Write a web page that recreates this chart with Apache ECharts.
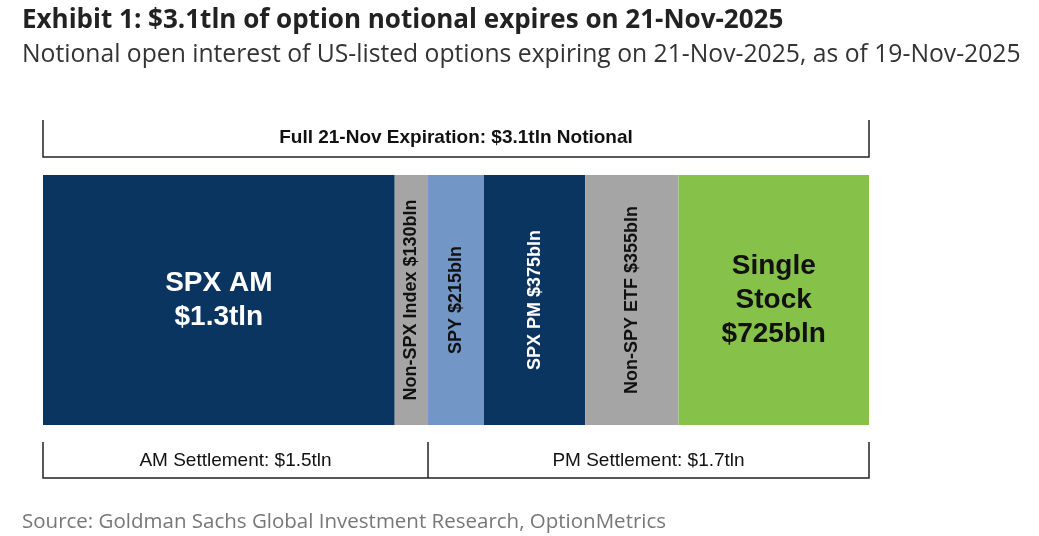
<!DOCTYPE html>
<html>
<head>
<meta charset="utf-8">
<script src="https://cdn.jsdelivr.net/npm/echarts@6/dist/echarts.min.js"></script>
<style>html,body{margin:0;padding:0;background:#fff}#chart{width:1039px;height:536px}</style>
</head>
<body>
<div id="chart"></div>
<script>
'use strict';
const segments = ['SPX AM', 'Non-SPX Index', 'SPY', 'SPX PM', 'Non-SPY ETF', 'Single Stock'];
// widths as drawn in the picture ($bln)
const values = [1320, 125, 210, 380, 350, 715];
const labels = ['SPX AM\n$1.3tln', 'Non-SPX Index $130bln', 'SPY $215bln', 'SPX PM $375bln', 'Non-SPY ETF $355bln', 'Single\nStock\n$725bln'];
const colors = ['#0a3560', '#a5a5a5', '#7297c6', '#0a3560', '#a5a5a5', '#86c24a'];
const textColors = ['#fff', '#111', '#111', '#fff', '#111', '#111'];
const rotated = [false, true, true, true, true, false];
const total = values.reduce((a, b) => a + b, 0);
const amTotal = values[0] + values[1];

const FONT = 'Liberation Sans, Arial, sans-serif';
const chart = echarts.init(document.getElementById('chart'));

const series = segments.map((name, i) => ({
    name,
    type: 'bar',
    stack: 'all',
    barWidth: '100%',
    data: [values[i]],
    itemStyle: { color: colors[i] },
    label: {
        show: true,
        position: 'inside',
        formatter: labels[i],
        rotate: rotated[i] ? 90 : 0,
        color: textColors[i],
        fontFamily: FONT,
        fontWeight: 'bold',
        fontSize: rotated[i] ? 18 : 28,
        lineHeight: rotated[i] ? 20 : 34
    }
}));

chart.setOption({
    animation: false,
    grid: { left: 43, right: 170, top: 175, bottom: 111 },
    xAxis: { type: 'value', min: 0, max: total, show: false },
    yAxis: { type: 'category', data: ['all'], show: false },
    series,
    title: [{
        text: 'Exhibit 1: $3.1tln of option notional expires on 21-Nov-2025',
        left: 17, top: 3,
        textStyle: { fontFamily: 'Open Sans, sans-serif', fontWeight: 'bold', fontSize: 26, color: '#222' }
    }, {
        text: 'Notional open interest of US-listed options expiring on 21-Nov-2025, as of 19-Nov-2025',
        left: 17, top: 37,
        textStyle: { fontFamily: 'Open Sans, sans-serif', fontWeight: 'normal', fontSize: 24.7, color: '#333' }
    }, {
        text: 'Source: Goldman Sachs Global Investment Research, OptionMetrics',
        left: 17, top: 507,
        textStyle: { fontFamily: 'Open Sans, sans-serif', fontWeight: 'normal', fontSize: 20.5, color: '#777' }
    }]
});

// brackets above and below the bar
const px = v => chart.convertToPixel({ xAxisIndex: 0 }, v);
const x0 = px(0), xMid = px(amTotal), x1 = px(total);
const line = (pts) => ({ type: 'polyline', shape: { points: pts }, style: { stroke: '#222', lineWidth: 1.5, fill: null } });
const txt = (x, y, t) => ({ type: 'text', x, y, style: { text: t, fill: '#111', font: '19px ' + FONT, align: 'center', verticalAlign: 'middle' } });
chart.setOption({
    graphic: [
        line([[x0, 120], [x0, 157], [x1, 157], [x1, 120]]),
        {
            type: 'text', x: (x0 + x1) / 2, y: 138,
            style: { text: 'Full 21-Nov Expiration: $3.1tln Notional', fill: '#111', font: 'bold 19px ' + FONT, align: 'center', verticalAlign: 'middle' }
        },
        line([[x0, 442], [x0, 478], [x1, 478], [x1, 442]]),
        line([[xMid, 442], [xMid, 478]]),
        txt((x0 + xMid) / 2, 461, 'AM Settlement: $1.5tln'),
        txt((xMid + x1) / 2, 461, 'PM Settlement: $1.7tln')
    ]
});
</script>
</body>
</html>
